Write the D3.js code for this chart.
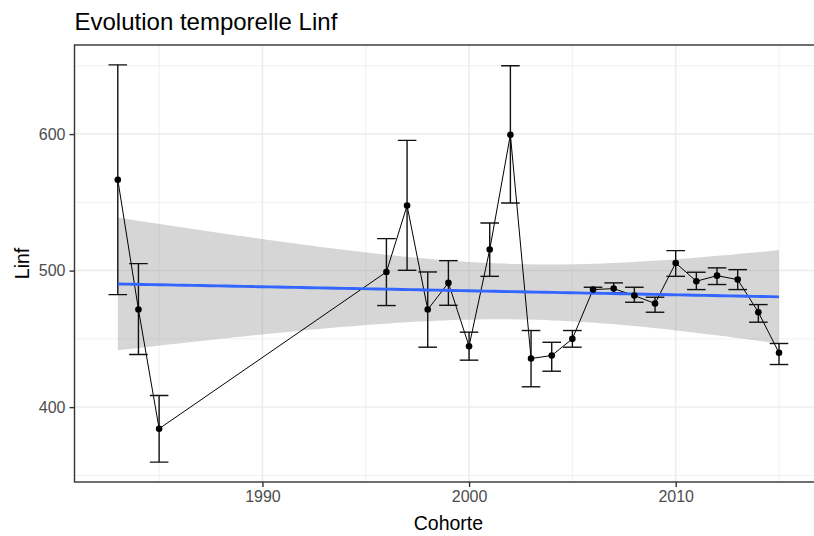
<!DOCTYPE html>
<html>
<head>
<meta charset="utf-8">
<script src="https://cdn.jsdelivr.net/npm/d3@7"></script>
<style>
  html, body { margin: 0; padding: 0; background: #fff; }
  svg { display: block; }
  text { font-family: "Liberation Sans", Arial, sans-serif; }
</style>
</head>
<body>
<svg id="chart" width="814" height="536"></svg>
<script>
// ---- Data ----
const years = [1983, 1984, 1985, 1996, 1997, 1998, 1999, 2000, 2001, 2002, 2003, 2004,
               2005, 2006, 2007, 2008, 2009, 2010, 2011, 2012, 2013, 2014, 2015];
const linf  = [566.6, 471.5, 384.2, 499.0, 547.6, 471.5, 491.0, 444.6, 515.4, 599.5, 435.6, 437.8,
               450.0, 486.1, 486.8, 481.7, 475.9, 505.6, 492.2, 496.3, 493.4, 469.5, 439.8];
const upper = [650.7, 505.1, 408.5, 523.4, 595.4, 499.0, 507.3, 454.9, 534.9, 650.0, 456.1, 447.5,
               456.1, 487.8, 491.0, 487.8, 480.5, 514.6, 498.8, 502.0, 500.7, 475.1, 446.6];
const lower = [482.4, 438.5, 359.7, 474.4, 500.2, 443.9, 474.6, 434.4, 495.8, 549.5, 414.9, 426.3,
               443.9, 483.7, 483.7, 476.8, 469.5, 495.8, 486.1, 489.8, 486.1, 462.2, 431.2];
const xMajor = [1990, 2000, 2010];
const xMinor = [1985, 1995, 2005, 2015];
const yMajor = [400, 500, 600];
const yMinor = [350, 450, 550, 650];
const titleText = "Evolution temporelle Linf";
const xTitle = "Cohorte";
const yTitle = "Linf";

const data = years.map((y, i) => ({ x: y, y: linf[i], lo: lower[i], hi: upper[i] }));

// ---- Layout ----
const panel = { left: 74.5, top: 45, right: 822.3, bottom: 482 };
const barW = 0.9; // errorbar width in years

const xMin = d3.min(years) - barW / 2, xMax = d3.max(years) + barW / 2;
const xPad = (xMax - xMin) * 0.05;
const x = d3.scaleLinear().domain([xMin - xPad, xMax + xPad]).range([panel.left, panel.right]);

const yMinV = d3.min(lower), yMaxV = d3.max(upper);
const yPad = (yMaxV - yMinV) * 0.05;
const y = d3.scaleLinear().domain([yMinV - yPad, yMaxV + yPad]).range([panel.bottom, panel.top]);

const svg = d3.select("#chart");
svg.append("rect").attr("width", 814).attr("height", 536).attr("fill", "#fff");

const clip = svg.append("clipPath").attr("id", "pclip").append("rect")
  .attr("x", panel.left).attr("y", panel.top)
  .attr("width", panel.right - panel.left).attr("height", panel.bottom - panel.top);

const g = svg.append("g").attr("clip-path", "url(#pclip)");

// grid
g.selectAll(".gymin").data(yMinor).join("line")
  .attr("x1", panel.left).attr("x2", panel.right)
  .attr("y1", d => y(d)).attr("y2", d => y(d))
  .attr("stroke", "#EBEBEB").attr("stroke-width", 0.75);
g.selectAll(".gxmin").data(xMinor).join("line")
  .attr("y1", panel.top).attr("y2", panel.bottom)
  .attr("x1", d => x(d)).attr("x2", d => x(d))
  .attr("stroke", "#EBEBEB").attr("stroke-width", 0.75);
g.selectAll(".gymaj").data(yMajor).join("line")
  .attr("x1", panel.left).attr("x2", panel.right)
  .attr("y1", d => y(d)).attr("y2", d => y(d))
  .attr("stroke", "#EBEBEB").attr("stroke-width", 1.45);
g.selectAll(".gxmaj").data(xMajor).join("line")
  .attr("y1", panel.top).attr("y2", panel.bottom)
  .attr("x1", d => x(d)).attr("x2", d => x(d))
  .attr("stroke", "#EBEBEB").attr("stroke-width", 1.45);

// linear regression (geom_smooth method = lm) with 95% CI
const n = data.length;
const mx = d3.mean(years), my = d3.mean(linf);
const sxx = d3.sum(years, v => (v - mx) ** 2);
const sxy = d3.sum(data, d => (d.x - mx) * (d.y - my));
const b1 = sxy / sxx, b0 = my - b1 * mx;
const sse = d3.sum(data, d => (d.y - (b0 + b1 * d.x)) ** 2);
const s = Math.sqrt(sse / (n - 2));
const tq = 2.0796; // t(0.975, df = 21)
const grid = d3.range(80).map(i => d3.min(years) + i * (d3.max(years) - d3.min(years)) / 79);
const fit = grid.map(xx => {
  const f = b0 + b1 * xx;
  const se = s * Math.sqrt(1 / n + (xx - mx) ** 2 / sxx);
  return { x: xx, f, lo: f - tq * se, hi: f + tq * se };
});

g.append("path").datum(fit)
  .attr("d", d3.area().x(d => x(d.x)).y0(d => y(d.lo)).y1(d => y(d.hi)))
  .attr("fill", "#999999").attr("fill-opacity", 0.4);

// connecting line
g.append("path").datum(data)
  .attr("d", d3.line().x(d => x(d.x)).y(d => y(d.y)))
  .attr("fill", "none").attr("stroke", "#000").attr("stroke-width", 1);

// error bars
const eb = g.append("g").attr("stroke", "#111").attr("stroke-width", 1.4).attr("fill", "none");
eb.selectAll(".v").data(data).join("line")
  .attr("x1", d => x(d.x)).attr("x2", d => x(d.x))
  .attr("y1", d => y(d.lo)).attr("y2", d => y(d.hi));
eb.selectAll(".ct").data(data).join("line")
  .attr("x1", d => x(d.x - barW / 2)).attr("x2", d => x(d.x + barW / 2))
  .attr("y1", d => y(d.hi)).attr("y2", d => y(d.hi));
eb.selectAll(".cb").data(data).join("line")
  .attr("x1", d => x(d.x - barW / 2)).attr("x2", d => x(d.x + barW / 2))
  .attr("y1", d => y(d.lo)).attr("y2", d => y(d.lo));

// smooth line
g.append("path").datum(fit)
  .attr("d", d3.line().x(d => x(d.x)).y(d => y(d.f)))
  .attr("fill", "none").attr("stroke", "#3366FF").attr("stroke-width", 2.9);

// points
g.selectAll(".pt").data(data).join("circle")
  .attr("cx", d => x(d.x)).attr("cy", d => y(d.y)).attr("r", 3.3)
  .attr("fill", "#000");

// panel border
svg.append("rect")
  .attr("x", panel.left).attr("y", panel.top)
  .attr("width", panel.right - panel.left).attr("height", panel.bottom - panel.top)
  .attr("fill", "none").attr("stroke", "#333333").attr("stroke-width", 1.4);

// axes
const xAxis = d3.axisBottom(x).tickValues(xMajor).tickFormat(d3.format("d"))
  .tickSize(5).tickPadding(4);
const gx = svg.append("g").attr("transform", `translate(0,${panel.bottom})`).call(xAxis);
gx.select(".domain").remove();
gx.selectAll(".tick line").attr("stroke", "#333333").attr("stroke-width", 1.4);
gx.selectAll(".tick text").attr("fill", "#4D4D4D").attr("font-size", 16)
  .attr("font-family", "Liberation Sans, Arial, sans-serif");

const yAxis = d3.axisLeft(y).tickValues(yMajor).tickFormat(d3.format("d"))
  .tickSize(5).tickPadding(4);
const gy = svg.append("g").attr("transform", `translate(${panel.left},0)`).call(yAxis);
gy.select(".domain").remove();
gy.selectAll(".tick line").attr("stroke", "#333333").attr("stroke-width", 1.4);
gy.selectAll(".tick text").attr("fill", "#4D4D4D").attr("font-size", 16)
  .attr("font-family", "Liberation Sans, Arial, sans-serif");

// titles
svg.append("text").attr("x", panel.left).attr("y", 30)
  .attr("font-size", 24).attr("fill", "#000").text(titleText);
svg.append("text").attr("x", (panel.left + panel.right) / 2).attr("y", 530)
  .attr("text-anchor", "middle").attr("font-size", 19.5).attr("fill", "#000").text(xTitle);
svg.append("text")
  .attr("transform", `translate(28.5,${(panel.top + panel.bottom) / 2}) rotate(-90)`)
  .attr("text-anchor", "middle").attr("font-size", 19.5).attr("fill", "#000").text(yTitle);
</script>
</body>
</html>
